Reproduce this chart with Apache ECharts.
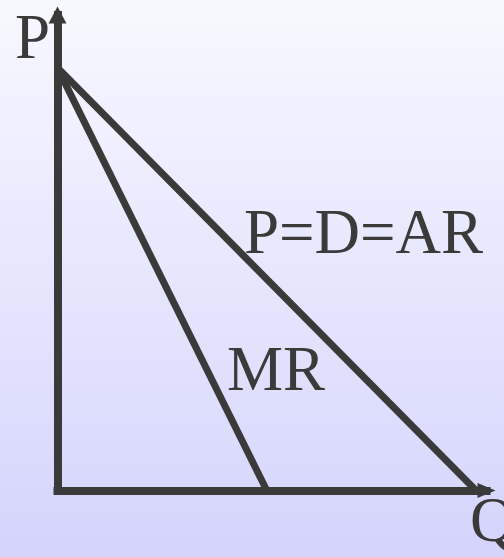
<!DOCTYPE html>
<html>
<head>
<meta charset="utf-8">
<script src="https://cdn.jsdelivr.net/npm/echarts@6/dist/echarts.min.js"></script>
<style>
  html, body { margin: 0; padding: 0; }
  #chart { width: 504px; height: 557px; }
</style>
</head>
<body>
<div id="chart"></div>
<script>
// demand (AR) and marginal revenue lines, in quantity / price units
const demandPoints = [[0, 8], [10, 0]];
const mrPoints = [[0, 8], [5, 0]];
const axisNames = { price: "P", quantity: "Q" };
const curveLabels = { demand: "P=D=AR", mr: "MR" };

const ink = "#3a3a3a";

const chart = echarts.init(document.getElementById("chart"));

const textEl = (text, x, y) => ({
  type: "text",
  x: x,
  y: y,
  style: {
    text: text,
    fontFamily: "Liberation Serif",
    fontSize: 63,
    fill: ink,
    textAlign: "left",
    textVerticalAlign: "middle",
  },
});

chart.setOption({
  backgroundColor: {
    type: "linear",
    x: 0, y: 0, x2: 0, y2: 1,
    colorStops: [
      { offset: 0, color: "#f8f8ff" },
      { offset: 1, color: "#d4d4fc" },
    ],
  },
  animation: false,
  grid: { left: 57.5, right: 17.5, top: 15, bottom: 66.5 },
  xAxis: {
    type: "value",
    min: 0,
    max: 10.25,
    axisLine: {
      show: true,
      symbol: ["none", "triangle"],
      symbolSize: [15, 18],
      lineStyle: { color: ink, width: 8, cap: "square" },
    },
    axisTick: { show: false },
    axisLabel: { show: false },
    splitLine: { show: false },
  },
  yAxis: {
    type: "value",
    min: 0,
    max: 9,
    axisLine: {
      show: true,
      symbol: ["none", "triangle"],
      symbolSize: [18, 17],
      lineStyle: { color: ink, width: 8, cap: "square" },
    },
    axisTick: { show: false },
    axisLabel: { show: false },
    splitLine: { show: false },
  },
  series: [
    {
      name: curveLabels.demand,
      type: "line",
      data: demandPoints,
      showSymbol: false,
      lineStyle: { color: ink, width: 7 },
    },
    {
      name: curveLabels.mr,
      type: "line",
      data: mrPoints,
      showSymbol: false,
      lineStyle: { color: ink, width: 7 },
    },
  ],
  graphic: [
    textEl(axisNames.price, 15, 41),
    textEl(axisNames.quantity, 470, 524),
    textEl(curveLabels.demand, 244, 236),
    textEl(curveLabels.mr, 227, 373),
  ],
});
</script>
</body>
</html>
